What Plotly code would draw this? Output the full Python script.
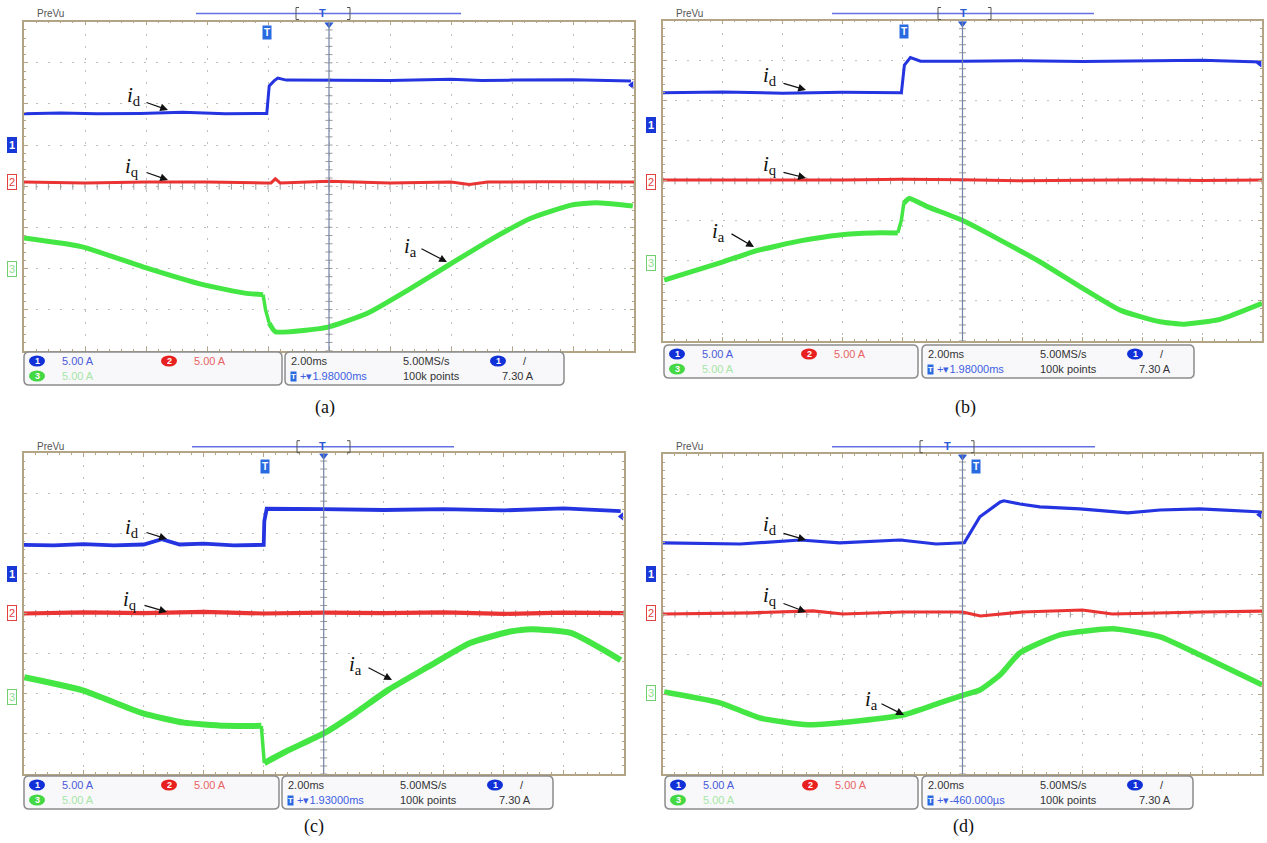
import plotly.graph_objects as go
import numpy as np

# ---------------- data (screen divisions: x 0..10 = 2 ms/div, y 0..8 = 5 A/div) ----------------
# panel (a)
a_id_x = [0, 0.6, 1.2, 1.9, 2.6, 3.3, 3.98, 4.02, 4.10, 4.16, 4.3, 5.0, 6.0, 7.0, 7.5, 8.0, 9.0, 9.95]
a_id_y = [5.76, 5.78, 5.76, 5.77, 5.80, 5.76, 5.77, 6.44, 6.56, 6.63, 6.58, 6.58, 6.57, 6.60, 6.57, 6.58, 6.59, 6.56]
a_iq_x = [0, 1, 2, 3, 3.95, 4.05, 4.12, 4.2, 5, 6, 7, 7.3, 7.6, 8.5, 10]
a_iq_y = [4.10, 4.08, 4.10, 4.10, 4.08, 4.08, 4.18, 4.08, 4.12, 4.08, 4.10, 4.04, 4.10, 4.11, 4.10]
a_ia_x = [0, 0.94, 1.95, 2.95, 3.62, 3.92, 3.96, 4.02, 4.12, 4.62, 5.0, 5.63, 6.30, 6.97, 7.64, 8.31, 8.97, 9.38, 9.98]
a_ia_y = [2.74, 2.53, 2.04, 1.60, 1.40, 1.36, 0.99, 0.67, 0.46, 0.50, 0.58, 0.91, 1.48, 2.09, 2.69, 3.22, 3.54, 3.60, 3.52]
# panel (b)
b_id_x = [0, 1, 2, 3, 3.98, 4.03, 4.13, 4.3, 5, 6, 7, 8, 9, 9.98]
b_id_y = [6.20, 6.22, 6.19, 6.21, 6.20, 6.89, 7.08, 6.99, 6.99, 7.00, 6.98, 7.00, 7.01, 6.97]
b_iq_x = [0, 1, 2, 3, 4, 5, 6, 7, 8, 9, 10]
b_iq_y = [4.02, 4.02, 4.03, 4.02, 4.04, 4.03, 4.00, 4.02, 4.03, 4.01, 4.02]
b_ia_x = [0.02, 0.95, 1.55, 2.29, 2.95, 3.5, 3.92, 3.98, 4.02, 4.11, 4.42, 4.99, 5.63, 6.29, 6.96, 7.63, 8.30, 8.70, 9.30, 10.0]
b_ia_y = [1.52, 1.95, 2.25, 2.50, 2.65, 2.70, 2.70, 3.02, 3.44, 3.56, 3.35, 3.02, 2.52, 1.98, 1.36, 0.77, 0.48, 0.42, 0.54, 0.94]
# panel (c)
c_id_x = [0, 0.5, 1.0, 1.5, 2.0, 2.3, 2.6, 3.0, 3.5, 4.0, 4.01, 4.05, 5, 6, 7, 8, 9, 9.95]
c_id_y = [5.71, 5.70, 5.73, 5.70, 5.72, 5.85, 5.72, 5.74, 5.70, 5.71, 6.30, 6.61, 6.60, 6.58, 6.60, 6.57, 6.62, 6.55]
c_iq_x = [0, 1, 2, 3, 4, 5, 6, 7, 8, 9, 10]
c_iq_y = [4.00, 4.03, 4.01, 4.04, 4.00, 4.02, 4.01, 4.03, 3.99, 4.02, 4.01]
c_ia_x = [0.01, 0.97, 1.99, 2.67, 3.35, 3.96, 4.01, 4.37, 5.0, 5.52, 6.07, 6.75, 7.43, 8.11, 8.45, 9.13, 9.95]
c_ia_y = [2.41, 2.09, 1.51, 1.28, 1.20, 1.20, 0.27, 0.56, 1.01, 1.51, 2.09, 2.68, 3.26, 3.55, 3.61, 3.51, 2.84]
# panel (d)
d_id_x = [0, 1.29, 2.29, 2.95, 3.96, 4.56, 5.03, 5.29, 5.63, 5.69, 5.96, 6.29, 6.96, 7.76, 8.30, 8.96, 10]
d_id_y = [5.78, 5.75, 5.85, 5.78, 5.85, 5.75, 5.78, 6.43, 6.80, 6.83, 6.75, 6.68, 6.63, 6.53, 6.60, 6.63, 6.55]
d_iq_x = [0, 1.5, 2.5, 3.0, 4.0, 5.0, 5.3, 6.0, 7.0, 7.5, 9.0, 10]
d_iq_y = [4.00, 4.03, 4.08, 4.00, 4.05, 4.05, 3.95, 4.05, 4.10, 4.00, 4.05, 4.07]
d_ia_x = [0.02, 0.95, 1.62, 2.42, 3.29, 4.02, 4.62, 5.03, 5.29, 5.63, 5.96, 6.63, 7.50, 8.30, 8.96, 10]
d_ia_y = [2.05, 1.78, 1.40, 1.23, 1.33, 1.48, 1.78, 1.98, 2.10, 2.48, 3.03, 3.48, 3.63, 3.43, 2.98, 2.23]

# channel ground markers (div) and trigger level (div)
ch1_level = [4.99, 5.39, 4.99, 5.00]
ch2_level = [4.10, 3.98, 4.02, 4.03]
ch3_level = [1.98, 1.94, 1.93, 2.02]
trig_level = [6.46, 6.93, 6.42, 6.48]
trig_offset = ["1.98000ms", "1.98000ms", "1.93000ms", "-460.000\u00b5s"]
panel_names = ["(a)", "(b)", "(c)", "(d)"]

ID = [(a_id_x, a_id_y), (b_id_x, b_id_y), (c_id_x, c_id_y), (d_id_x, d_id_y)]
IQ = [(a_iq_x, a_iq_y), (b_iq_x, b_iq_y), (c_iq_x, c_iq_y), (d_iq_x, d_iq_y)]
IA = [(a_ia_x, a_ia_y), (b_ia_x, b_ia_y), (c_ia_x, c_ia_y), (d_ia_x, d_ia_y)]

# ---------------- layout geometry (pixels) ----------------
W, H = 1267, 843
BOX = [(24, 21.7, 634, 350.7), (663, 20.7, 1262, 341), (23.7, 453, 623.7, 774), (663, 454, 1262, 774)]
INFO_Y = [352, 345, 776, 776]
INFO_H = 33
LEFTBOX = [(24, 282), (664, 918), (24, 279), (665, 918)]
RIGHTBOX = [(285, 564), (922, 1194), (282, 553), (922, 1193)]
TOPBAR = [(196, 461, 13.5, 296, 350, 322), (832, 1094, 13.5, 938, 991, 963),
          (192, 454, 446.7, 297, 350, 322), (832, 1095, 446.7, 920, 974, 947)]
TICON = [(267, 33), (904, 32), (264.5, 466.7), (976, 466.7)]
LABEL_POS = [(325, 407), (965, 407), (314, 826), (963, 826)]
ARROWS = [
    [((145, 102), (168, 110), (134, 96), "d"), ((145, 172), (168, 180), (132, 167), "q"), ((420, 248), (447, 262), (410, 247), "a")],
    [((782, 83), (806, 90), (770, 76), "d"), ((782, 172), (806, 178), (770, 165), "q"), ((730, 233), (754, 247), (718, 232), "a")],
    [((145, 532), (167, 539), (132, 528), "d"), ((143, 605), (167, 612), (130, 600), "q"), ((367, 667), (392, 680), (356, 665), "a")],
    [((782, 533), (806, 540), (770, 525), "d"), ((782, 603), (806, 612), (770, 596), "q"), ((880, 703), (904, 715), (871, 700), "a")],
]
# trace widths per panel (panel (c) is noisier, so its band is wider)
W_ID = [3, 3, 3.8, 3.2]
W_IQ = [3, 3, 4.2, 3.2]
W_IA = [5, 5, 6, 5.5]

BLUE = "#2434e0"
RED = "#ea3434"
GREEN = "#44e644"
BORDER = "#b4a486"
GRID = "#bdbdbd"


def px(x):
    return x / W


def py(y):
    return 1 - y / H


def ydiv_to_px(i, d):
    x0, y0, x1, y1 = BOX[i]
    return y1 - d * (y1 - y0) / 8.0


def rrect(x0, y0, x1, y1, r=5):
    pts = [("M", [(x0 + r, y0)]), ("L", [(x1 - r, y0)]), ("Q", [(x1, y0), (x1, y0 + r)]),
           ("L", [(x1, y1 - r)]), ("Q", [(x1, y1), (x1 - r, y1)]), ("L", [(x0 + r, y1)]),
           ("Q", [(x0, y1), (x0, y1 - r)]), ("L", [(x0, y0 + r)]), ("Q", [(x0, y0), (x0 + r, y0)])]
    s = ""
    for cmd, ps in pts:
        s += cmd + " " + " ".join(f"{px(a):.5f},{py(b):.5f}" for a, b in ps) + " "
    return s + "Z"


def split_steps(xs, ys, thr=2.5):
    """split a trace into smooth parts and the steep step part"""
    steep = [k for k in range(len(xs) - 1)
             if abs((ys[k + 1] - ys[k]) / (xs[k + 1] - xs[k])) > thr]
    if not steep:
        return [(xs, ys)], []
    a, b = steep[0], steep[-1] + 1
    smooth = [(xs[:a + 1], ys[:a + 1]), (xs[b:], ys[b:])]
    jump = [(xs[a:b + 1], ys[a:b + 1])]
    return smooth, jump


fig = go.Figure()
layout = dict(width=W, height=H, margin=dict(l=0, r=0, t=0, b=0), paper_bgcolor="white",
              plot_bgcolor="white", showlegend=False)
shapes = []
ann = []
FONT = "Liberation Sans"
SERIF = "Liberation Serif"

for i in range(4):
    xn = "x" if i == 0 else f"x{i + 1}"
    yn = "y" if i == 0 else f"y{i + 1}"
    xk = "xaxis" if i == 0 else f"xaxis{i + 1}"
    yk = "yaxis" if i == 0 else f"yaxis{i + 1}"
    x0, y0, x1, y1 = BOX[i]
    common = dict(showgrid=True, gridcolor=GRID, griddash="2px,10px", gridwidth=1, zeroline=False,
                  showticklabels=False, showline=True, linecolor=BORDER, linewidth=1.5, mirror="ticks",
                  ticks="inside", ticklen=4, tickcolor=BORDER, fixedrange=True)
    layout[xk] = dict(domain=[px(x0), px(x1)], range=[0, 10], dtick=1, tick0=0, anchor=yn,
                      minor=dict(ticks="inside", ticklen=2, tickcolor=BORDER, showgrid=False, dtick=0.2), **common)
    layout[yk] = dict(domain=[py(y1), py(y0)], range=[0, 8], dtick=1, tick0=0, anchor=xn,
                      minor=dict(ticks="inside", ticklen=2, tickcolor=BORDER, showgrid=False, dtick=0.2), **common)

    # graticule centre ticks
    gx = np.round(np.arange(0, 10.001, 0.2), 2)
    gy = np.round(np.arange(0, 8.001, 0.2), 2)
    fig.add_trace(go.Scatter(x=gx, y=[4] * len(gx), mode="markers", xaxis=xn, yaxis=yn, hoverinfo="skip",
                             marker=dict(symbol="line-ns", size=5, line=dict(width=1, color="#9a9a9a"))))
    fig.add_trace(go.Scatter(x=[5] * len(gy), y=gy, mode="markers", xaxis=xn, yaxis=yn, hoverinfo="skip",
                             marker=dict(symbol="line-ew", size=5, line=dict(width=1, color="#9a9a9a"))))
    shapes.append(dict(type="line", xref=xn, yref=yn, x0=5, x1=5, y0=0, y1=8,
                       line=dict(color="#7484a4", width=1.2)))

    # i_a (smooth parts as spline, the step as straight segments)
    smooth, jump = split_steps(*IA[i])
    for sx, sy in smooth:
        fig.add_trace(go.Scatter(x=sx, y=sy, mode="lines", xaxis=xn, yaxis=yn,
                                 line=dict(color=GREEN, width=W_IA[i], shape="spline", smoothing=0.5)))
    for sx, sy in jump:
        fig.add_trace(go.Scatter(x=sx, y=sy, mode="lines", xaxis=xn, yaxis=yn,
                                 line=dict(color=GREEN, width=3.5)))
    fig.add_trace(go.Scatter(x=IQ[i][0], y=IQ[i][1], mode="lines", xaxis=xn, yaxis=yn,
                             line=dict(color=RED, width=W_IQ[i])))
    fig.add_trace(go.Scatter(x=ID[i][0], y=ID[i][1], mode="lines", xaxis=xn, yaxis=yn,
                             line=dict(color=BLUE, width=W_ID[i])))

    # trigger marks
    fig.add_trace(go.Scatter(x=[5], y=[7.93], mode="markers", xaxis=xn, yaxis=yn, cliponaxis=False,
                             marker=dict(symbol="triangle-down", size=8, color="#2a5ad8")))
    fig.add_trace(go.Scatter(x=[9.96], y=[trig_level[i]], mode="markers", xaxis=xn, yaxis=yn,
                             cliponaxis=False, marker=dict(symbol="triangle-left", size=7, color=BLUE)))

    # channel ground markers on the left edge
    mx = x0 - 12
    for lev, fg, bg, bc, t in [(ch1_level[i], "white", "#1838d8", "#1838d8", "<b>1</b>"),
                               (ch2_level[i], "#e04040", "white", "#e04040", "2"),
                               (ch3_level[i], "#90e090", "white", "#70d070", "3")]:
        ann.append(dict(x=px(mx), y=py(ydiv_to_px(i, lev)), xref="paper", yref="paper", text=t,
                        showarrow=False, font=dict(family=FONT, size=11, color=fg), bgcolor=bg,
                        bordercolor=bc, borderwidth=1, borderpad=1, xanchor="center", yanchor="middle"))

    # top bar
    lx0, lx1, ly, bx0, bx1, tmx = TOPBAR[i]
    shapes.append(dict(type="line", xref="paper", yref="paper", x0=px(lx0), x1=px(lx1), y0=py(ly), y1=py(ly),
                       line=dict(color="#6272e2", width=1.5)))
    for bx, d in [(bx0, 3), (bx1, -3)]:
        shapes.append(dict(type="line", xref="paper", yref="paper", x0=px(bx), x1=px(bx), y0=py(ly - 6),
                           y1=py(ly + 6), line=dict(color="#555", width=1)))
        shapes.append(dict(type="line", xref="paper", yref="paper", x0=px(bx), x1=px(bx + d), y0=py(ly - 6),
                           y1=py(ly - 6), line=dict(color="#555", width=1)))
        shapes.append(dict(type="line", xref="paper", yref="paper", x0=px(bx), x1=px(bx + d), y0=py(ly + 6),
                           y1=py(ly + 6), line=dict(color="#555", width=1)))
    ann.append(dict(x=px(tmx), y=py(ly - 1), xref="paper", yref="paper", text="<b>T</b>", showarrow=False,
                    font=dict(family=FONT, size=11, color="#2a5ad8"), xanchor="center", yanchor="middle"))
    ann.append(dict(x=px(x0 + 11), y=py(ly), xref="paper", yref="paper", text="PreVu", showarrow=False,
                    font=dict(family=FONT, size=10, color="#555"), xanchor="left", yanchor="middle"))
    tx, ty = TICON[i]
    ann.append(dict(x=px(tx), y=py(ty), xref="paper", yref="paper", text="<b>T</b>", showarrow=False,
                    font=dict(family=FONT, size=10, color="white"), bgcolor="#2a6ae0", borderpad=1,
                    xanchor="center", yanchor="middle"))

    # info boxes
    iy0 = INFO_Y[i]
    iy1 = iy0 + INFO_H
    r1 = iy0 + 9
    r2 = iy0 + 24
    lb0, lb1 = LEFTBOX[i]
    rb0, rb1 = RIGHTBOX[i]
    for b0, b1 in [(lb0, lb1), (rb0, rb1)]:
        shapes.append(dict(type="path", xref="paper", yref="paper", path=rrect(b0, iy0, b1, iy1),
                           line=dict(color="#8c8c8c", width=1.5), fillcolor="#f8f8fb"))

    def pill(cx, cy, col, t):
        shapes.append(dict(type="circle", xref="paper", yref="paper", x0=px(cx - 8), x1=px(cx + 8),
                           y0=py(cy + 5.5), y1=py(cy - 5.5), fillcolor=col, line=dict(width=0)))
        ann.append(dict(x=px(cx), y=py(cy), xref="paper", yref="paper", text=f"<b>{t}</b>", showarrow=False,
                        font=dict(family=FONT, size=9, color="white"), xanchor="center", yanchor="middle"))

    def txt(x, y, s, col="#333", size=11):
        ann.append(dict(x=px(x), y=py(y), xref="paper", yref="paper", text=s, showarrow=False,
                        font=dict(family=FONT, size=size, color=col), xanchor="left", yanchor="middle"))

    pill(lb0 + 13, r1, "#1030d8", "1")
    txt(lb0 + 36, r1, "5.00 A", "#4a5ad8")
    pill(lb0 + 145, r1, "#e82020", "2")
    txt(lb0 + 168, r1, "5.00 A", "#e86464")
    pill(lb0 + 13, r2, "#44d844", "3")
    txt(lb0 + 36, r2, "5.00 A", "#a6e6a6")
    txt(rb0 + 4, r1, "2.00ms")
    txt(rb0 + 116, r1, "5.00MS/s")
    pill(rb0 + 213, r1, "#1030d8", "1")
    txt(rb0 + 236, r1, "/")
    ann.append(dict(x=px(rb0 + 8), y=py(r2), xref="paper", yref="paper", text="<b>T</b>", showarrow=False,
                    font=dict(family=FONT, size=8, color="white"), bgcolor="#2a6ae0", borderpad=0,
                    xanchor="center", yanchor="middle"))
    txt(rb0 + 13, r2, "+\u25be" + trig_offset[i], "#4060e0")
    txt(rb0 + 116, r2, "100k points")
    txt(rb0 + 215, r2, "7.30 A")

    # i_d, i_q, i_a annotations
    for (tail, head, lab, sub) in ARROWS[i]:
        ann.append(dict(x=px(head[0]), y=py(head[1]), xref="paper", yref="paper", text="",
                        showarrow=True, ax=tail[0] - head[0], ay=tail[1] - head[1], arrowhead=2,
                        arrowsize=1.3, arrowwidth=1.2, arrowcolor="#111"))
        ann.append(dict(x=px(lab[0]), y=py(lab[1]), xref="paper", yref="paper",
                        text=f"<i>i</i><sub>{sub}</sub>", showarrow=False,
                        font=dict(family=SERIF, size=21, color="#111"), xanchor="center", yanchor="middle"))

    ann.append(dict(x=px(LABEL_POS[i][0]), y=py(LABEL_POS[i][1]), xref="paper", yref="paper",
                    text=panel_names[i], showarrow=False, font=dict(family=SERIF, size=18, color="#111"),
                    xanchor="center", yanchor="middle"))

layout["shapes"] = shapes
layout["annotations"] = ann
fig.update_layout(**layout)
fig.write_html("out.html", config={"displayModeBar": False},
               post_script="document.body.style.margin='0';document.body.style.overflow='hidden';")
